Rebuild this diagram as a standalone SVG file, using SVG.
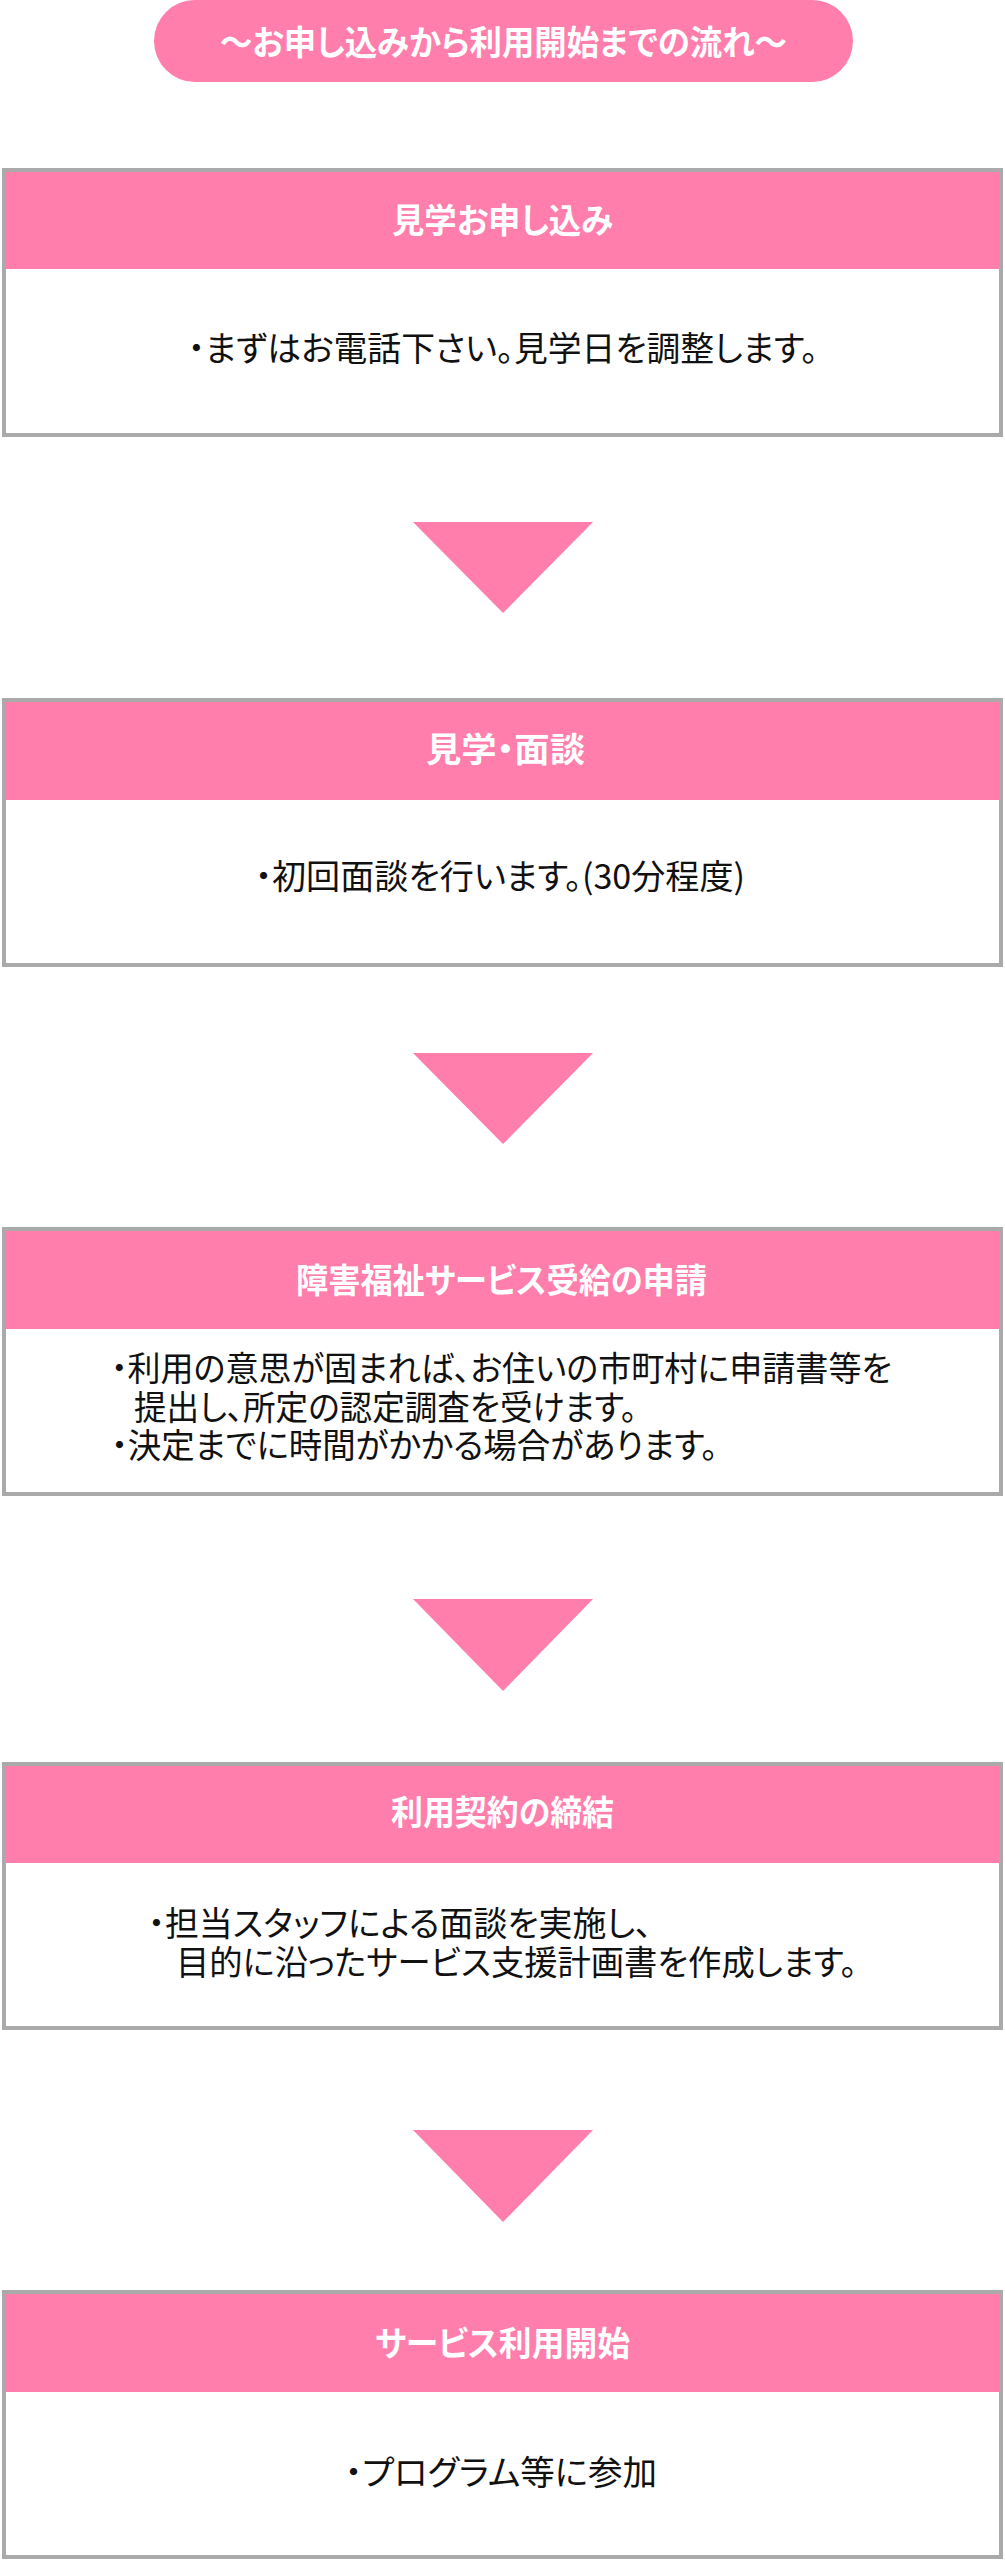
<svg xmlns="http://www.w3.org/2000/svg" width="1005" height="2560" viewBox="0 0 1005 2560">
<style>
  .pink { fill: #ff7eab; }
  .frame { fill: #ffffff; stroke: #aaaaaa; stroke-width: 4; }
  .hdr { fill: #ff7eab; }
  .ttl { font-family: "Noto Sans CJK JP", "Noto Sans", sans-serif; font-weight: 700; font-size: 34px; fill: #ffffff; font-feature-settings: "palt"; }
  .body { font-family: "Noto Sans CJK JP", "Noto Sans", sans-serif; font-weight: 400; font-size: 34px; fill: #111111; stroke: #ffffff; stroke-width: 3px; stroke-linejoin: round; paint-order: stroke; font-feature-settings: "palt"; }
</style>
<rect width="1005" height="2560" fill="#ffffff"/>

<g id="title">
  <rect class="pink" x="154" y="0" width="699" height="82" rx="41"/>
  <text class="ttl" x="220" y="55" textLength="567" lengthAdjust="spacingAndGlyphs">～お申し込みから利用開始までの流れ～</text>
</g>

<g id="step1">
  <rect class="frame" x="4" y="170" width="997" height="265"/>
  <rect class="hdr" x="6" y="172" width="993" height="97"/>
  <text class="ttl" x="392" y="233" textLength="221" lengthAdjust="spacingAndGlyphs">見学お申し込み</text>
  <text class="body" x="188" y="361" textLength="630" lengthAdjust="spacingAndGlyphs">・まずはお電話下さい。見学日を調整します。</text>
</g>

<g id="step2">
  <rect class="frame" x="4" y="700" width="997" height="265"/>
  <rect class="hdr" x="6" y="702" width="993" height="98"/>
  <text class="ttl" x="426" y="762" textLength="159" lengthAdjust="spacingAndGlyphs">見学・面談</text>
  <text class="body" x="255" y="889" textLength="490" lengthAdjust="spacingAndGlyphs">・初回面談を行います。(30分程度)</text>
</g>

<g id="step3">
  <rect class="frame" x="4" y="1229" width="997" height="265"/>
  <rect class="hdr" x="6" y="1231" width="993" height="98"/>
  <text class="ttl" x="296" y="1293" textLength="411" lengthAdjust="spacingAndGlyphs">障害福祉サービス受給の申請</text>
  <text class="body" x="111" y="1381" textLength="781" lengthAdjust="spacingAndGlyphs">・利用の意思が固まれば、お住いの市町村に申請書等を</text>
  <text class="body" x="134" y="1420" textLength="503" lengthAdjust="spacingAndGlyphs">提出し、所定の認定調査を受けます。</text>
  <text class="body" x="111" y="1458" textLength="607" lengthAdjust="spacingAndGlyphs">・決定までに時間がかかる場合があります。</text>
</g>

<g id="step4">
  <rect class="frame" x="4" y="1764" width="997" height="264"/>
  <rect class="hdr" x="6" y="1766" width="993" height="97"/>
  <text class="ttl" x="391" y="1825" textLength="223" lengthAdjust="spacingAndGlyphs">利用契約の締結</text>
  <text class="body" x="148" y="1936" textLength="504" lengthAdjust="spacingAndGlyphs">・担当スタッフによる面談を実施し、</text>
  <text class="body" x="176" y="1975" textLength="681" lengthAdjust="spacingAndGlyphs">目的に沿ったサービス支援計画書を作成します。</text>
</g>

<g id="step5">
  <rect class="frame" x="4" y="2292" width="997" height="265"/>
  <rect class="hdr" x="6" y="2294" width="993" height="98"/>
  <text class="ttl" x="375" y="2356" textLength="255" lengthAdjust="spacingAndGlyphs">サービス利用開始</text>
  <text class="body" x="345" y="2485" textLength="312" lengthAdjust="spacingAndGlyphs">・プログラム等に参加</text>
</g>

<g id="connectors">
  <polygon class="pink" points="413,522 593,522 503,613"/>
  <polygon class="pink" points="413,1053 593,1053 503,1144"/>
  <polygon class="pink" points="413,1599 593,1599 503,1691"/>
  <polygon class="pink" points="413,2130 593,2130 503,2222"/>
</g>
</svg>
